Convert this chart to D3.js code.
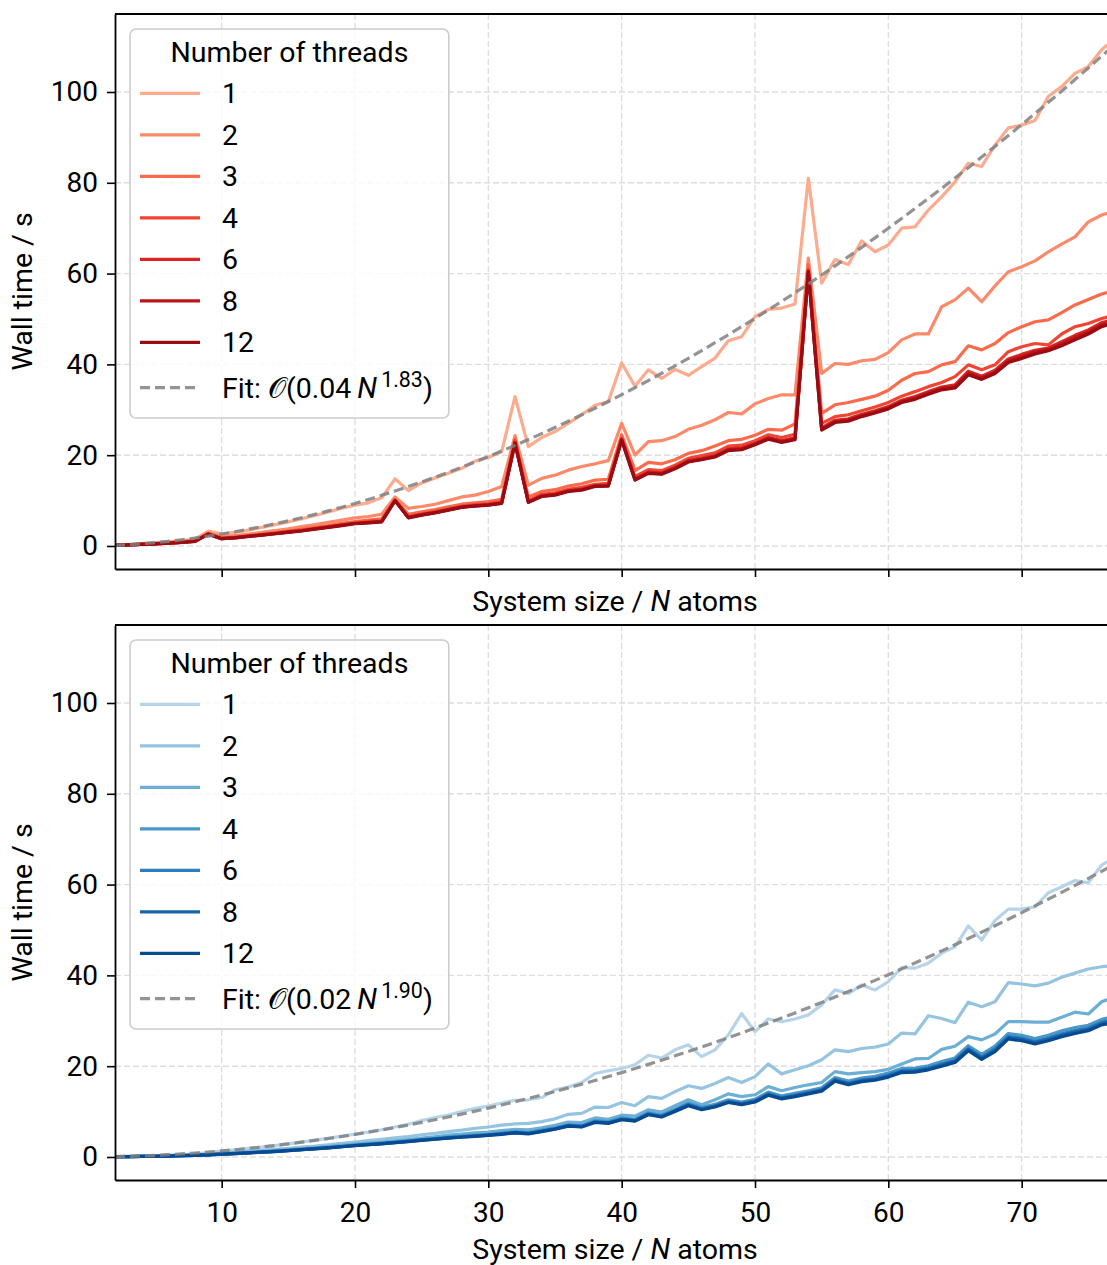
<!DOCTYPE html>
<html>
<head>
<meta charset="utf-8">
<script src="https://cdn.jsdelivr.net/npm/d3@7"></script>
<style>
  body { margin: 0; background: #fff; }
  text { font-family: Roboto, sans-serif; fill: #000; }
</style>
</head>
<body>
<svg id="chart" width="1107" height="1265"></svg>
<script>
// System sizes (number of atoms) at which wall times were recorded
const systemSize = [2,3,4,5,6,7,8,9,10,11,12,13,14,15,16,17,18,19,20,21,22,23,24,25,26,27,28,29,30,31,32,33,34,35,36,37,38,39,40,41,42,43,44,45,46,47,48,49,50,51,52,53,54,55,56,57,58,59,60,61,62,63,64,65,66,67,68,69,70,71,72,73,74,75,76,77];

// Thread counts shown in the legend
const threadCounts = ["1", "2", "3", "4", "6", "8", "12"];

// Upper panel: wall time in seconds per thread count
const upperTime1 = [0.2,0.3,0.5,0.7,0.9,1.2,1.5,3.3,2.6,3.0,3.5,4.1,4.7,5.3,6.0,6.7,7.5,8.3,9.0,9.5,10.6,14.8,12.2,13.9,15.0,16.0,17.1,18.7,19.5,20.8,32.9,21.9,23.9,25.2,27.0,28.9,31.0,31.8,40.3,35.2,38.8,36.9,38.9,37.6,39.5,41.4,45.2,46.1,50.5,52.1,52.4,53.3,81.0,57.9,63.1,62.0,67.2,64.8,66.3,70.0,70.3,74.0,76.9,80.2,84.3,83.6,88.3,92.1,92.7,93.7,99.0,101.2,104.1,105.6,109.3,111.8];
const upperTime2 = [0.2,0.3,0.4,0.6,0.8,1.0,1.3,2.9,2.0,2.3,2.6,3.0,3.4,3.8,4.3,4.7,5.2,5.7,6.2,6.5,7.0,10.8,8.3,8.7,9.2,10.0,10.8,11.2,12.0,13.1,24.3,13.4,14.9,15.6,16.7,17.5,18.1,18.8,27.0,20.0,23.0,23.2,24.1,25.7,26.6,27.8,29.4,29.1,31.3,32.5,33.3,33.3,63.4,38.0,40.2,40.0,40.8,41.1,42.6,45.4,46.7,46.7,52.7,54.2,56.8,53.8,57.3,60.4,61.5,62.8,64.8,66.5,68.1,71.4,72.9,73.8];
const upperTime3 = [0.2,0.3,0.4,0.5,0.7,0.9,1.2,2.8,1.8,2.0,2.3,2.6,3.0,3.3,3.7,4.1,4.5,5.0,5.4,5.7,6.0,10.3,7.0,7.5,8.0,8.6,9.2,9.5,9.8,10.3,23.6,10.8,12.0,12.4,13.2,13.7,14.5,14.7,24.5,16.6,18.4,18.1,19.0,20.4,21.0,22.0,23.2,23.5,24.4,25.7,25.5,26.9,62.0,29.2,31.1,31.6,32.3,33.0,34.3,36.5,38.0,38.4,39.9,40.6,44.1,43.2,44.6,47.0,48.3,49.4,49.8,51.4,53.1,54.3,55.5,56.3];
const upperTime4 = [0.15,0.25,0.4,0.5,0.65,0.85,1.1,2.7,1.7,1.9,2.2,2.5,2.8,3.2,3.5,3.9,4.3,4.7,5.1,5.4,5.6,10.1,6.5,7.1,7.6,8.2,8.8,9.1,9.3,9.8,23.2,10.0,11.4,11.7,12.5,12.9,13.6,13.8,23.8,15.3,16.8,16.6,17.8,19.3,19.9,20.5,22.0,22.2,23.2,24.5,23.9,24.6,61.0,27.0,28.5,28.9,29.8,30.6,31.6,33.0,34.0,35.1,36.0,37.3,39.9,38.8,39.9,42.8,43.9,44.6,44.3,46.7,48.3,49.0,50.1,50.8];
const upperTime6 = [0.15,0.25,0.35,0.45,0.6,0.8,1.05,2.6,1.6,1.85,2.15,2.45,2.75,3.1,3.4,3.8,4.2,4.6,5.0,5.2,5.4,10.0,6.3,6.9,7.4,8.0,8.6,8.9,9.1,9.5,22.8,9.7,11.1,11.4,12.2,12.5,13.3,13.4,23.5,14.8,16.3,16.1,17.3,18.8,19.3,19.9,21.4,21.6,22.6,23.9,23.2,23.8,60.6,26.0,27.7,28.0,29.0,29.8,30.7,32.1,32.9,34.0,35.0,35.5,38.5,37.4,38.7,41.2,42.2,43.1,43.6,45.0,46.4,47.6,49.2,49.9];
const upperTime8 = [0.15,0.25,0.35,0.45,0.6,0.8,1.0,2.6,1.6,1.8,2.1,2.4,2.7,3.05,3.35,3.75,4.15,4.55,4.95,5.15,5.35,10.0,6.25,6.85,7.35,7.95,8.55,8.85,9.05,9.45,22.7,9.65,11.0,11.3,12.1,12.4,13.2,13.3,23.4,14.6,16.1,15.9,17.1,18.6,19.1,19.7,21.2,21.4,22.4,23.7,23.0,23.6,60.5,25.7,27.4,27.7,28.7,29.5,30.4,31.8,32.6,33.7,34.7,35.1,38.1,37.0,38.3,40.8,41.7,42.7,43.3,44.5,45.9,47.1,48.7,49.4];
const upperTime12 = [0.15,0.25,0.35,0.45,0.6,0.8,1.0,2.6,1.6,1.8,2.1,2.4,2.7,3.0,3.3,3.7,4.1,4.5,4.9,5.1,5.3,10.0,6.2,6.8,7.3,7.9,8.5,8.8,9.0,9.4,22.6,9.6,10.9,11.2,12.0,12.3,13.1,13.2,23.3,14.5,16.0,15.8,17.0,18.5,19.0,19.6,21.0,21.2,22.3,23.5,22.8,23.4,60.4,25.5,27.2,27.5,28.5,29.3,30.2,31.6,32.3,33.4,34.4,34.8,37.7,36.7,38.0,40.4,41.3,42.3,43.0,44.1,45.4,46.7,48.3,49.2];

// Lower panel: wall time in seconds per thread count
const lowerTime1 = [0.1,0.15,0.2,0.3,0.4,0.55,0.7,0.95,1.3,1.6,1.9,2.2,2.5,2.9,3.3,3.7,4.1,4.6,5.0,5.5,6.0,6.6,7.2,8.0,8.7,9.25,10.0,10.7,11.2,11.9,12.5,12.6,13.1,14.8,15.4,16.4,18.4,19.0,19.5,20.3,22.4,21.8,23.6,24.7,22.1,23.6,26.9,31.6,27.6,30.4,29.8,30.4,31.3,33.5,36.8,36.0,37.9,36.8,38.6,41.7,41.6,42.7,44.9,46.3,50.9,47.8,52.1,54.6,54.6,55.1,58.2,59.5,60.9,60.4,64.3,66.0];
const lowerTime2 = [0.1,0.12,0.15,0.2,0.3,0.4,0.5,0.65,0.9,1.1,1.3,1.5,1.7,1.9,2.2,2.4,2.7,3.0,3.3,3.6,3.9,4.2,4.5,4.9,5.2,5.6,5.9,6.3,6.6,7.0,7.3,7.4,7.8,8.4,9.4,9.6,11.0,10.9,12.0,11.3,13.3,12.9,14.4,15.7,15.1,16.2,17.5,16.4,17.7,20.5,18.3,19.2,20.1,21.4,23.6,23.2,23.9,24.2,24.9,27.3,27.1,31.1,30.5,29.6,34.1,33.1,34.2,38.4,38.1,37.7,38.3,39.6,40.5,41.4,41.9,42.3];
const lowerTime3 = [0.08,0.1,0.14,0.19,0.25,0.33,0.42,0.55,0.75,0.9,1.05,1.25,1.45,1.65,1.85,2.05,2.3,2.6,2.85,3.05,3.3,3.55,3.85,4.15,4.45,4.8,5.05,5.3,5.5,5.8,6.1,6.0,6.4,7.0,7.7,7.6,8.6,8.3,9.2,9.0,10.4,9.9,11.3,12.6,11.5,12.6,13.9,13.3,13.7,15.5,14.6,15.3,15.9,16.4,18.8,18.3,18.6,18.8,19.3,20.5,21.6,21.7,23.7,24.4,26.5,25.8,27.1,29.8,29.8,29.7,29.7,30.8,31.9,31.5,34.2,35.3];
const lowerTime4 = [0.08,0.1,0.13,0.17,0.22,0.3,0.38,0.5,0.66,0.8,0.95,1.1,1.28,1.48,1.68,1.9,2.1,2.36,2.62,2.84,3.05,3.3,3.58,3.84,4.1,4.36,4.58,4.8,5.0,5.27,5.58,5.38,5.9,6.42,7.15,6.95,8.0,7.8,8.62,8.3,9.8,9.25,10.5,11.9,10.95,11.6,12.6,12.1,12.7,14.3,13.45,14.0,14.6,15.25,17.5,16.7,17.4,17.75,18.5,19.5,19.6,20.1,21.0,21.8,24.5,22.6,24.4,27.2,26.8,26.1,26.8,27.8,28.5,29.0,30.3,31.0];
const lowerTime6 = [0.075,0.095,0.125,0.165,0.215,0.29,0.37,0.48,0.64,0.78,0.92,1.08,1.24,1.44,1.64,1.85,2.05,2.3,2.56,2.77,2.98,3.22,3.49,3.75,4.0,4.26,4.47,4.68,4.88,5.14,5.44,5.24,5.75,6.26,6.98,6.78,7.8,7.6,8.41,8.1,9.55,9.03,10.25,11.6,10.68,11.3,12.3,11.8,12.4,13.95,13.1,13.65,14.25,14.9,17.1,16.3,17.0,17.3,18.05,19.05,19.15,19.65,20.5,21.3,23.95,22.05,23.8,26.6,26.2,25.5,26.2,27.15,27.85,28.4,29.7,30.4];
const lowerTime8 = [0.07,0.09,0.12,0.16,0.21,0.28,0.36,0.47,0.63,0.76,0.91,1.06,1.22,1.42,1.62,1.82,2.02,2.27,2.53,2.73,2.94,3.18,3.44,3.7,3.95,4.2,4.41,4.61,4.81,5.07,5.37,5.17,5.67,6.18,6.89,6.69,7.7,7.5,8.3,8.0,9.42,8.91,10.12,11.45,10.54,11.15,12.15,11.65,12.25,13.78,12.95,13.47,14.07,14.7,16.9,16.1,16.8,17.1,17.8,18.8,18.9,19.4,20.25,21.05,23.7,21.8,23.5,26.3,25.9,25.2,25.9,26.8,27.5,28.1,29.4,30.0];
const lowerTime12 = [0.07,0.09,0.12,0.16,0.21,0.28,0.36,0.47,0.62,0.75,0.9,1.05,1.2,1.4,1.6,1.8,2.0,2.25,2.5,2.7,2.9,3.15,3.4,3.65,3.9,4.15,4.35,4.55,4.75,5.0,5.3,5.1,5.6,6.1,6.8,6.6,7.6,7.4,8.2,7.9,9.3,8.8,10.0,11.3,10.4,11.0,12.0,11.5,12.1,13.6,12.8,13.3,13.9,14.5,16.7,15.9,16.6,16.9,17.6,18.6,18.7,19.2,20.0,20.8,23.4,21.5,23.2,26.0,25.6,24.9,25.6,26.5,27.2,27.8,29.1,29.7];

// Power-law fits  t = a * N^b
const upperFitCoef = 0.039;
const upperFitExp = 1.83;
const lowerFitCoef = 0.0168;
const lowerFitExp = 1.90;

// Tick positions
const xTicks = [10, 20, 30, 40, 50, 60, 70];
const yTicks = [0, 20, 40, 60, 80, 100];

// Sequential palettes (light to dark with thread count)
const redShades  = ["#fcab8e", "#fc8a6a", "#fb6a4a", "#f14432", "#d92623", "#bc141a", "#990c13"];
const blueShades = ["#b6d4e9", "#94c4df", "#6baed6", "#4a98c9", "#2e7ebc", "#1764ab", "#084a92"];

const panels = [
  { top: 14,  bottom: 569,  colors: redShades,
    series: [upperTime1, upperTime2, upperTime3, upperTime4, upperTime6, upperTime8, upperTime12],
    fitA: upperFitCoef, fitB: upperFitExp, tickLabels: false },
  { top: 625, bottom: 1180, colors: blueShades,
    series: [lowerTime1, lowerTime2, lowerTime3, lowerTime4, lowerTime6, lowerTime8, lowerTime12],
    fitA: lowerFitCoef, fitB: lowerFitExp, tickLabels: true }
];

const svg = d3.select("#chart");
const plotLeft = 115, plotRight = 1115;
const x = d3.scaleLinear().domain([2, 77]).range([plotLeft, plotRight]);
const fmt2 = d3.format(".2f");
const fontStack = "Roboto, sans-serif";
const tickFont = 28, labelFont = 28.5, legendFont = 28.5;
const lineWidth = 3.2;

panels.forEach((p, pi) => {
  const y = d3.scaleLinear().domain([-5.07, 117.18]).range([p.bottom, p.top]);
  const g = svg.append("g");

  const clipId = "clip" + pi;
  svg.append("clipPath").attr("id", clipId)
    .append("rect").attr("x", plotLeft).attr("y", p.top)
    .attr("width", plotRight - plotLeft).attr("height", p.bottom - p.top);

  // grid
  const grid = g.append("g").attr("stroke", "#dedede").attr("stroke-width", 1.4)
    .attr("stroke-dasharray", "6,3");
  grid.selectAll("line.vx").data(xTicks).join("line")
    .attr("x1", d => x(d)).attr("x2", d => x(d))
    .attr("y1", p.top).attr("y2", p.bottom);
  grid.selectAll("line.hy").data(yTicks).join("line")
    .attr("x1", plotLeft).attr("x2", plotRight)
    .attr("y1", d => y(d)).attr("y2", d => y(d));

  // measured series
  const line = d3.line().x((d, i) => x(systemSize[i])).y(d => y(d));
  const lines = g.append("g").attr("clip-path", `url(#${clipId})`);
  p.series.forEach((vals, si) => {
    lines.append("path").datum(vals)
      .attr("fill", "none").attr("stroke", p.colors[si])
      .attr("stroke-width", lineWidth).attr("stroke-linejoin", "round")
      .attr("d", line);
  });

  // fitted power law
  const fitVals = systemSize.map(n => p.fitA * Math.pow(n, p.fitB));
  lines.append("path").datum(fitVals)
    .attr("fill", "none").attr("stroke", "#808080").attr("stroke-opacity", 0.85)
    .attr("stroke-width", lineWidth).attr("stroke-dasharray", "10,5")
    .attr("d", line);

  // axes
  const yAxis = d3.axisLeft(y).tickValues(yTicks).tickSize(8).tickSizeOuter(0).tickPadding(9);
  const ay = g.append("g").attr("transform", `translate(${plotLeft},0)`).call(yAxis);
  const xAxis = d3.axisBottom(x).tickValues(xTicks).tickSize(8).tickSizeOuter(0).tickPadding(14);
  if (!p.tickLabels) xAxis.tickFormat("");
  const ax = g.append("g").attr("transform", `translate(0,${p.bottom})`).call(xAxis);
  [ax, ay].forEach(a => {
    a.select(".domain").attr("stroke", "#000").attr("stroke-width", 1.8);
    a.selectAll(".tick line").attr("stroke", "#000").attr("stroke-width", 1.6);
    a.selectAll(".tick text").attr("font-size", tickFont).attr("font-family", fontStack).attr("fill", "#000");
  });
  g.append("line").attr("x1", plotLeft).attr("x2", plotRight)
    .attr("y1", p.top).attr("y2", p.top).attr("stroke", "#000").attr("stroke-width", 1.8);

  // axis titles
  const xl = g.append("text").attr("x", (plotLeft + plotRight) / 2)
    .attr("y", p.tickLabels ? p.bottom + 79 : p.bottom + 42)
    .attr("text-anchor", "middle").attr("font-size", labelFont);
  xl.append("tspan").text("System size / ");
  xl.append("tspan").attr("font-style", "italic").text("N");
  xl.append("tspan").text(" atoms");

  g.append("text")
    .attr("transform", `translate(32,${(p.top + p.bottom) / 2}) rotate(-90)`)
    .attr("text-anchor", "middle").attr("font-size", labelFont)
    .text("Wall time / s");

  // legend
  const lg = g.append("g");
  const box = lg.append("rect").attr("x", 130).attr("y", p.top + 15)
    .attr("rx", 6).attr("ry", 6)
    .attr("fill", "#fff").attr("fill-opacity", 0.8)
    .attr("stroke", "#cccccc").attr("stroke-width", 1.6);
  const title = lg.append("text").attr("y", p.top + 38).attr("dy", "0.35em")
    .attr("font-size", legendFont).text("Number of threads");

  const rowY = i => p.top + 79.3 + i * 41.5;
  threadCounts.forEach((t, i) => {
    lg.append("line").attr("x1", 140).attr("x2", 200)
      .attr("y1", rowY(i)).attr("y2", rowY(i))
      .attr("stroke", p.colors[i]).attr("stroke-width", lineWidth);
    lg.append("text").attr("x", 222).attr("y", rowY(i)).attr("dy", "0.35em")
      .attr("font-size", legendFont).text(t);
  });
  const fitY = p.top + 373.7;
  lg.append("line").attr("x1", 140).attr("x2", 200).attr("y1", fitY).attr("y2", fitY)
    .attr("stroke", "#808080").attr("stroke-opacity", 0.85)
    .attr("stroke-width", lineWidth).attr("stroke-dasharray", "10,5");
  const ft = lg.append("text").attr("x", 222).attr("y", fitY).attr("dy", "0.35em")
    .attr("font-size", legendFont);
  ft.append("tspan").text("Fit: ");
  ft.append("tspan").attr("font-family", "'DejaVu Sans', sans-serif").text("\u{1D4AA}");
  ft.append("tspan").text("(" + fmt2(p.fitA) + "\u2009");
  ft.append("tspan").attr("font-style", "italic").text("N");
  ft.append("tspan").attr("font-size", legendFont * 0.75).attr("dy", -11).text("\u2009" + fmt2(p.fitB));
  ft.append("tspan").attr("dy", 11).text(")");

  const right = ft.node().getBBox();
  const boxRight = right.x + right.width + 16;
  box.attr("width", boxRight - 130).attr("height", 389);
  title.attr("x", (130 + boxRight) / 2).attr("text-anchor", "middle");
});
</script>
</body>
</html>
